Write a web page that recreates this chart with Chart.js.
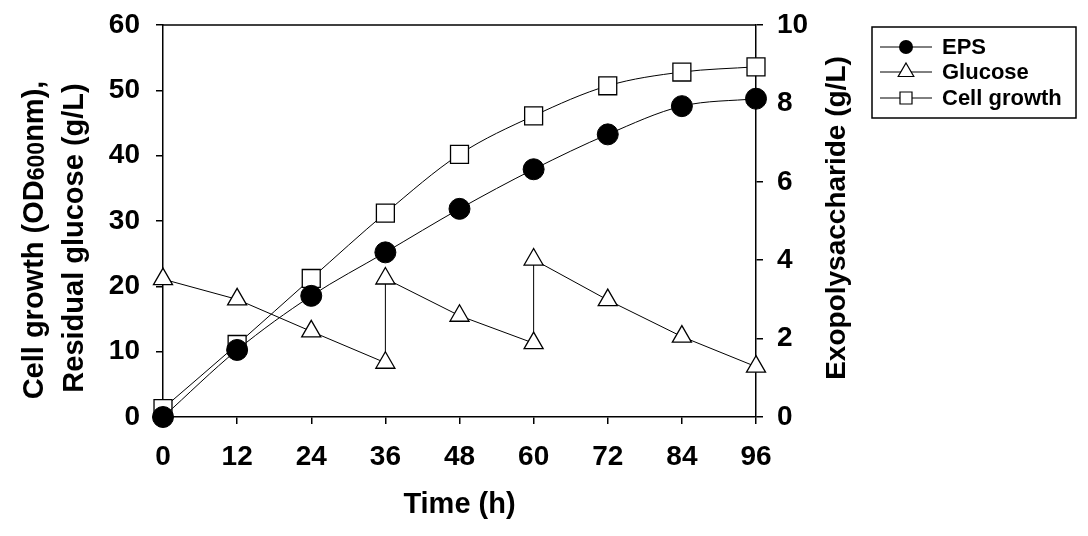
<!DOCTYPE html>
<html>
<head>
<meta charset="utf-8">
<script src="https://cdn.jsdelivr.net/npm/chart.js@4"></script>
<style>
  body { margin: 0; background: #fff; }
  #wrap { width: 1088px; height: 536px; }
</style>
</head>
<body>
<div id="wrap"><canvas id="chart" width="1088" height="536"></canvas></div>
<script>
// data
const timeH = [0, 12, 24, 36, 48, 60, 72, 84, 96];
const epsValues = [0, 1.71, 3.09, 4.2, 5.31, 6.32, 7.21, 7.93, 8.12];
const cellGrowth = [1.3, 11.1, 21.2, 31.2, 40.2, 46.1, 50.7, 52.8, 53.6];
// glucose is fed at 36 h and 60 h, so those times appear twice
const glucoseTime = [0, 12, 24, 36, 36, 48, 60, 60, 72, 84, 96];
const glucoseValues = [21.1, 18, 13.1, 8.3, 21.2, 15.5, 11.3, 24.1, 17.9, 12.3, 7.7];
const xTicks = [0, 12, 24, 36, 48, 60, 72, 84, 96];
const leftTicks = [0, 10, 20, 30, 40, 50, 60];
const rightTicks = [0, 2, 4, 6, 8, 10];
const seriesNames = ["EPS", "Glucose", "Cell growth"];

const FONT = "'Liberation Sans', Arial, sans-serif";

function pts(xs, ys) {
  return xs.map((x, i) => ({ x: x, y: ys[i] }));
}

// fixed axis sizes, no extra label padding
function fitY(w) {
  return s => { s.width = w; s.paddingTop = 0; s.paddingBottom = 0; };
}

// draw axis titles, top frame line and the boxed legend
const extras = {
  id: 'extras',
  afterDraw(chart) {
    const ctx = chart.ctx;
    const a = chart.chartArea;
    ctx.save();
    ctx.strokeStyle = '#000';
    ctx.lineWidth = 1.5;
    ctx.beginPath();
    ctx.moveTo(a.left, a.top);
    ctx.lineTo(a.right, a.top);
    ctx.stroke();

    ctx.fillStyle = '#000';
    ctx.textBaseline = 'alphabetic';

    // x title
    ctx.font = 'bold 29px ' + FONT;
    ctx.textAlign = 'center';
    ctx.fillText('Time (h)', (a.left + a.right) / 2, 513);

    // left title, two lines, with small 600
    const parts = [['Cell growth (OD', 29], ['600', 23], ['nm),', 29]];
    let total = 0;
    parts.forEach(p => { ctx.font = 'bold ' + p[1] + 'px ' + FONT; total += ctx.measureText(p[0]).width; });
    ctx.save();
    ctx.translate(43, 240);
    ctx.rotate(-Math.PI / 2);
    ctx.textAlign = 'left';
    let cx = -total / 2;
    parts.forEach(p => {
      ctx.font = 'bold ' + p[1] + 'px ' + FONT;
      ctx.fillText(p[0], cx, p[1] < 29 ? 1 : 0);
      cx += ctx.measureText(p[0]).width;
    });
    ctx.restore();

    ctx.save();
    ctx.translate(83, 238);
    ctx.rotate(-Math.PI / 2);
    ctx.textAlign = 'center';
    ctx.font = 'bold 29px ' + FONT;
    ctx.fillText('Residual glucose (g/L)', 0, 0);
    ctx.restore();

    // right title
    ctx.save();
    ctx.translate(845, 218);
    ctx.rotate(-Math.PI / 2);
    ctx.textAlign = 'center';
    ctx.font = 'bold 28px ' + FONT;
    ctx.fillText('Exopolysaccharide (g/L)', 0, 0);
    ctx.restore();

    // legend
    ctx.lineWidth = 1.5;
    ctx.strokeRect(872, 27, 204, 91);
    const rows = [47, 72, 98];
    ctx.font = 'bold 22px ' + FONT;
    ctx.textAlign = 'left';
    ctx.textBaseline = 'middle';
    rows.forEach((y, i) => {
      ctx.lineWidth = 1;
      ctx.strokeStyle = '#000';
      ctx.beginPath();
      ctx.moveTo(880, y);
      ctx.lineTo(932, y);
      ctx.stroke();
      ctx.lineWidth = 1.2;
      ctx.beginPath();
      if (i === 0) {
        ctx.arc(906, y, 7, 0, Math.PI * 2);
        ctx.fillStyle = '#000';
        ctx.fill();
      } else if (i === 1) {
        const r = 9;
        ctx.moveTo(906, y - r);
        ctx.lineTo(906 + 0.866 * r, y + r / 2);
        ctx.lineTo(906 - 0.866 * r, y + r / 2);
        ctx.closePath();
        ctx.fillStyle = '#fff';
        ctx.fill();
        ctx.stroke();
      } else {
        ctx.rect(900, y - 6, 12, 12);
        ctx.fillStyle = '#fff';
        ctx.fill();
        ctx.stroke();
      }
      ctx.fillStyle = '#000';
      ctx.fillText(seriesNames[i], 942, y + 1);
    });
    ctx.restore();
  }
};

new Chart(document.getElementById('chart'), {
  type: 'line',
  data: {
    datasets: [
      {
        label: seriesNames[0],
        data: pts(timeH, epsValues),
        yAxisID: 'y1',
        borderColor: '#000',
        borderWidth: 1,
        backgroundColor: '#000',
        pointStyle: 'circle',
        pointRadius: 10.5,
        pointBorderWidth: 1,
        cubicInterpolationMode: 'monotone',
        clip: false
      },
      {
        label: seriesNames[1],
        data: pts(glucoseTime, glucoseValues),
        yAxisID: 'y',
        borderColor: '#000',
        borderWidth: 1,
        backgroundColor: '#fff',
        pointStyle: 'triangle',
        pointRadius: 11,
        pointBorderWidth: 1.3,
        tension: 0,
        clip: false
      },
      {
        label: seriesNames[2],
        data: pts(timeH, cellGrowth),
        yAxisID: 'y',
        borderColor: '#000',
        borderWidth: 1,
        backgroundColor: '#fff',
        pointStyle: 'rect',
        pointRadius: 12.7,
        pointBorderWidth: 1.3,
        cubicInterpolationMode: 'monotone',
        clip: false
      }
    ]
  },
  options: {
    responsive: false,
    animation: false,
    devicePixelRatio: 1,
    layout: { autoPadding: false, padding: { top: 25, left: 0, right: 0, bottom: 0 } },
    plugins: { legend: { display: false }, tooltip: { enabled: false } },
    scales: {
      x: {
        type: 'linear',
        min: 0, max: 96,
        afterFit: s => { s.height = 119; s.paddingLeft = 0; s.paddingRight = 0; },
        afterBuildTicks: s => { s.ticks = xTicks.map(v => ({ value: v })); },
        border: { display: true, color: '#000', width: 1.5 },
        grid: { drawOnChartArea: false, drawTicks: true, tickLength: 7, color: '#000', lineWidth: 1.5 },
        ticks: { color: '#000', padding: 16, font: { family: FONT, size: 28, weight: 'bold' }, maxRotation: 0 }
      },
      y: {
        position: 'left',
        min: 0, max: 60,
        afterFit: fitY(163),
        afterBuildTicks: s => { s.ticks = leftTicks.map(v => ({ value: v })); },
        border: { display: true, color: '#000', width: 1.5 },
        grid: { drawOnChartArea: false, drawTicks: true, tickLength: 7, color: '#000', lineWidth: 1.5 },
        ticks: { color: '#000', padding: 16, font: { family: FONT, size: 28, weight: 'bold' } }
      },
      y1: {
        position: 'right',
        min: 0, max: 10,
        afterFit: fitY(332),
        afterBuildTicks: s => { s.ticks = rightTicks.map(v => ({ value: v })); },
        border: { display: true, color: '#000', width: 1.5 },
        grid: { drawOnChartArea: false, drawTicks: true, tickLength: 7, color: '#000', lineWidth: 1.5 },
        ticks: { color: '#000', padding: 14, font: { family: FONT, size: 28, weight: 'bold' } }
      }
    }
  },
  plugins: [extras]
});
</script>
</body>
</html>
